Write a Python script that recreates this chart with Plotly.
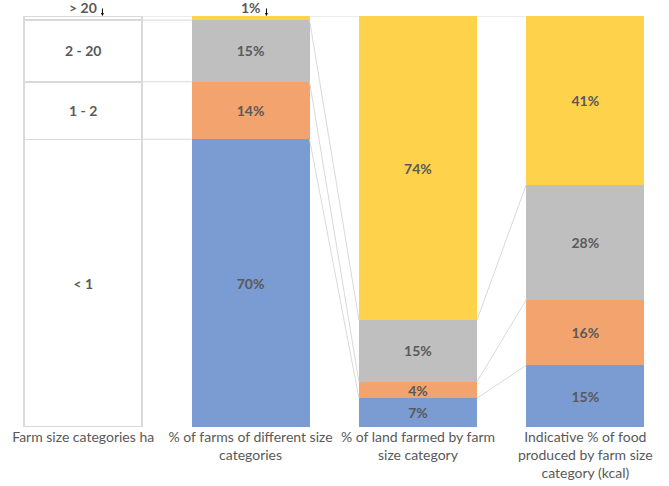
import plotly.graph_objects as go

categories = ["Farm size categories ha",
              "% of farms of different size<br>categories",
              "% of land farmed by farm<br>size category",
              "Indicative % of food<br>produced by farm size<br>category (kcal)"]
size_classes = ["< 1", "1 - 2", "2 - 20", "> 20"]
# values per size class across the four columns (first column mirrors % of farms)
v_lt1 = [70, 70, 7, 15]
v_1_2 = [14, 14, 4, 16]
v_2_20 = [15, 15, 15, 28]
v_gt20 = [1, 1, 74, 41]
series = [v_lt1, v_1_2, v_2_20, v_gt20]
colors = ["#7B9BD3", "#F3A46E", "#BFBFBF", "#FED24B"]

GRID = "#D9D9D9"
TXT = "#595959"
FONT = "Lato"
W = 0.705
x = [0, 1, 2, 3]

fig = go.Figure()
for k, vals in enumerate(series):
    texts = []
    for i, v in enumerate(vals):
        if v < 3:
            texts.append("")
        elif i == 0:
            texts.append(size_classes[k])
        else:
            texts.append(f"{v}%")
    fig.add_trace(go.Bar(
        x=x, y=vals, width=W,
        marker=dict(color=["#FFFFFF"] + [colors[k]] * 3,
                    line=dict(color=[GRID] + [colors[k]] * 3,
                              width=[1.5, 0, 0, 0])),
        text=texts, textposition="inside", insidetextanchor="middle",
        textangle=0, constraintext="none",
        textfont=dict(color=TXT, size=14, family=FONT, weight="bold"),
        hoverinfo="skip", showlegend=False))

# series lines connecting segment tops between columns
cum = []
for i in range(4):
    s = 0
    c = []
    for vals in series:
        s += vals[i]
        c.append(s)
    cum.append(c)
for i in range(3):
    for k in range(4):
        fig.add_trace(go.Scatter(
            x=[i + W / 2, i + 1 - W / 2], y=[cum[i][k], cum[i + 1][k]],
            mode="lines", line=dict(color=GRID, width=1),
            hoverinfo="skip", showlegend=False))

# labels for the tiny top segments
top_labels = [(0, size_classes[3], 0.115), (1, f"{v_gt20[1]}%", 0.095)]
for xi, lab, off in top_labels:
    fig.add_annotation(x=xi, y=100, yanchor="bottom", text=lab, showarrow=False,
                       yshift=-2, font=dict(color=TXT, size=14, family=FONT, weight="bold"))
    fig.add_annotation(x=xi + off, y=100, ax=0, ay=-9, text="", showarrow=True,
                       arrowhead=2, arrowsize=0.6, arrowwidth=1, arrowcolor="#000000",
                       standoff=0)

fig.update_layout(
    width=669, height=486,
    margin=dict(l=0, r=0, t=16, b=59),
    barmode="stack", paper_bgcolor="white", plot_bgcolor="white",
    font=dict(family=FONT, color=TXT, size=14),
    xaxis=dict(range=[-0.497, 3.5], tickvals=x, ticktext=categories,
               showgrid=False, zeroline=False, showline=False, ticks="",
               tickfont=dict(size=14, color=TXT, family=FONT)),
    yaxis=dict(range=[0, 100], visible=False),
)
fig.write_html("out.html", config={"displayModeBar": False},
               post_script="document.body.style.margin='0';")
